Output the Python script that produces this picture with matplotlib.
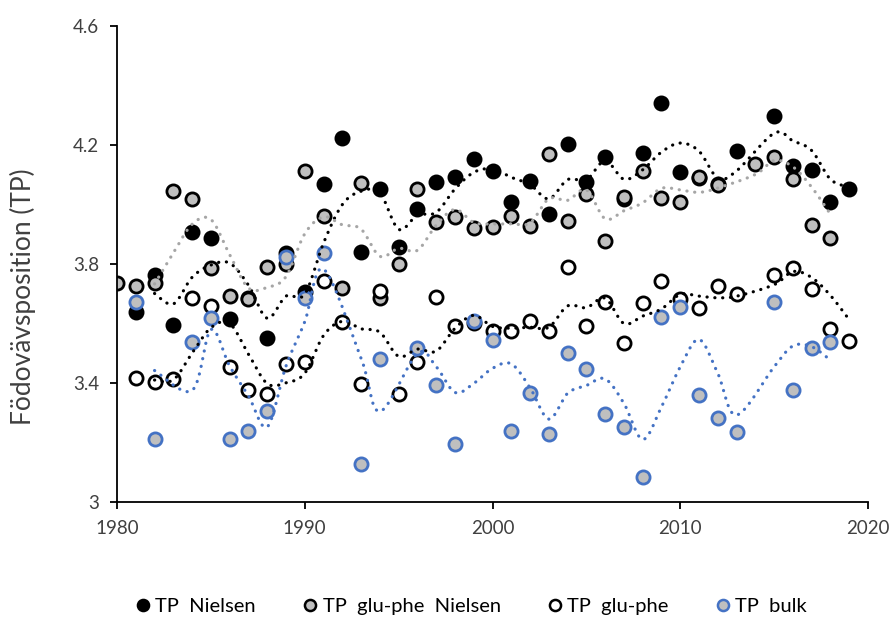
import numpy as np
import matplotlib
matplotlib.use("Agg")
import matplotlib.pyplot as plt
from matplotlib.lines import Line2D

plt.rcParams['font.family'] = ['Lato', 'DejaVu Sans']

# ---------------- data ----------------
years_nielsen = [1981, 1982, 1983, 1984, 1985, 1986, 1987, 1988, 1989,
                 1990, 1991, 1992, 1993, 1994, 1995, 1996, 1997, 1998, 1999,
                 2000, 2001, 2002, 2003, 2004, 2005, 2006, 2007, 2008, 2009,
                 2010, 2011, 2012, 2013, 2015, 2016, 2017, 2018, 2019]
tp_nielsen = [3.639, 3.763, 3.595, 3.908, 3.886, 3.615, 3.686, 3.552, 3.838,
              3.706, 4.068, 4.225, 3.841, 4.051, 3.858, 3.985, 4.077, 4.094, 4.153,
              4.112, 4.009, 4.080, 3.968, 4.203, 4.077, 4.161, 4.017, 4.172, 4.340,
              4.108, 4.090, 4.069, 4.180, 4.299, 4.129, 4.116, 4.009, 4.051]

years_gp_nielsen = [1980, 1981, 1982, 1983, 1984, 1985, 1986, 1987, 1988, 1989,
                    1990, 1991, 1992, 1993, 1994, 1995, 1996, 1997, 1998, 1999,
                    2000, 2001, 2002, 2003, 2004, 2005, 2006, 2007, 2008, 2009,
                    2010, 2011, 2012, 2014, 2015, 2016, 2017, 2018]
tp_gp_nielsen = [3.736, 3.726, 3.737, 4.047, 4.017, 3.785, 3.692, 3.681, 3.791, 3.800,
                 4.114, 3.961, 3.720, 4.071, 3.687, 3.800, 4.051, 3.940, 3.959, 3.920,
                 3.925, 3.961, 3.928, 4.169, 3.945, 4.034, 3.877, 4.026, 4.114, 4.023,
                 4.009, 4.091, 4.066, 4.136, 4.159, 4.085, 3.931, 3.886]

years_gp = [1981, 1982, 1983, 1984, 1985, 1986, 1987, 1988, 1989, 1990,
            1991, 1992, 1993, 1994, 1995, 1996, 1997, 1998, 1999, 2000,
            2001, 2002, 2003, 2004, 2005, 2006, 2007, 2008, 2009, 2010,
            2011, 2012, 2013, 2015, 2016, 2017, 2018, 2019]
tp_gp = [3.416, 3.404, 3.412, 3.685, 3.660, 3.455, 3.376, 3.363, 3.463, 3.472,
         3.744, 3.606, 3.397, 3.709, 3.363, 3.470, 3.688, 3.593, 3.601, 3.576,
         3.576, 3.610, 3.576, 3.791, 3.593, 3.671, 3.536, 3.668, 3.743, 3.682,
         3.651, 3.726, 3.698, 3.763, 3.786, 3.715, 3.582, 3.541]

years_bulk = [1981, 1982, 1984, 1985, 1986, 1987, 1988, 1989, 1990, 1991,
              1993, 1994, 1996, 1997, 1998, 1999, 2000, 2001, 2002, 2003,
              2004, 2005, 2006, 2007, 2008, 2009, 2010, 2011, 2012, 2013,
              2015, 2016, 2017, 2018]
tp_bulk = [3.673, 3.211, 3.539, 3.620, 3.211, 3.240, 3.306, 3.824, 3.687, 3.838,
           3.128, 3.481, 3.517, 3.393, 3.195, 3.608, 3.545, 3.240, 3.367, 3.229,
           3.500, 3.446, 3.295, 3.253, 3.083, 3.623, 3.656, 3.360, 3.281, 3.236,
           3.673, 3.376, 3.517, 3.537]

series_labels = ["TP  Nielsen", "TP  glu-phe  Nielsen", "TP  glu-phe", "TP  bulk"]
ma_period = 3          # moving-average period (rows = years)
first_row_year = 1980  # first row of the data table

x_ticks = [1980, 1990, 2000, 2010, 2020]
y_ticks = [3.0, 3.4, 3.8, 4.2, 4.6]
y_tick_labels = ["3", "3.4", "3.8", "4.2", "4.6"]
y_label = "Födovävsposition (TP)"

# ---------------- helpers ----------------
def moving_average(x, y, n):
    # Excel-like: window of n rows (years), blank rows ignored,
    # plotted only at non-blank rows from row n-1 onward
    x = np.asarray(x, float)
    y = np.asarray(y, float)
    ox, oy = [], []
    for xi in x:
        if xi < first_row_year + n - 1:
            continue
        m = (x > xi - n) & (x <= xi)
        ox.append(xi)
        oy.append(y[m].mean())
    return np.array(ox), np.array(oy)


def smooth(x, y, steps=20):
    # Bezier/Catmull-Rom smoothing like Excel's smoothed lines
    x = np.asarray(x, float)
    y = np.asarray(y, float)
    px = np.concatenate([[x[0]], x, [x[-1]]])
    py = np.concatenate([[y[0]], y, [y[-1]]])
    ox, oy = [], []
    for i in range(1, len(px) - 2):
        p0 = np.array([px[i], py[i]])
        p3 = np.array([px[i + 1], py[i + 1]])
        c1 = p0 + (np.array([px[i + 1], py[i + 1]]) - np.array([px[i - 1], py[i - 1]])) / 6
        c2 = p3 - (np.array([px[i + 2], py[i + 2]]) - np.array([px[i], py[i]])) / 6
        t = np.linspace(0, 1, steps, endpoint=(i == len(px) - 3))
        for tt in t:
            b = ((1 - tt) ** 3) * p0 + 3 * ((1 - tt) ** 2) * tt * c1 + 3 * (1 - tt) * tt ** 2 * c2 + tt ** 3 * p3
            ox.append(b[0])
            oy.append(b[1])
    return np.array(ox), np.array(oy)


# ---------------- figure ----------------
fig = plt.figure(figsize=(8.96, 6.18), dpi=100)
ax = fig.add_axes([117 / 896, 1 - 502 / 618, (868 - 117) / 896, (502 - 26) / 618])

tick_color = '#404040'
blue = '#4472C4'
gray_fill = '#BFBFBF'

marker_styles = [
    dict(facecolor='black', edgecolor='black'),
    dict(facecolor=gray_fill, edgecolor='black'),
    dict(facecolor='white', edgecolor='black'),
    dict(facecolor=gray_fill, edgecolor=blue),
]
line_colors = ['black', '#A6A6A6', 'black', blue]

datasets = [(years_nielsen, tp_nielsen), (years_gp_nielsen, tp_gp_nielsen),
            (years_gp, tp_gp), (years_bulk, tp_bulk)]

for i, ((xs, ys), st) in enumerate(zip(datasets, marker_styles)):
    ax.scatter(xs, ys, s=90, facecolor=st['facecolor'], edgecolor=st['edgecolor'],
               linewidths=2.0, zorder=2 + i * 0.1)

for (xs, ys), col in zip(datasets, line_colors):
    mx, my = moving_average(xs, ys, ma_period)
    sx, sy = smooth(mx, my)
    ax.plot(sx, sy, color=col, lw=2.3, linestyle=(0, (0.05, 2.4)),
            dash_capstyle='round', zorder=3)

ax.set_xlim(1980, 2020)
ax.set_ylim(3.0, 4.6)
ax.set_xticks(x_ticks)
ax.set_yticks(y_ticks)
ax.set_yticklabels(y_tick_labels)
ax.tick_params(axis='both', direction='out', length=5, width=1.3,
               colors='black', labelcolor=tick_color, labelsize=13.5, pad=8)
for side in ['top', 'right']:
    ax.spines[side].set_visible(False)
for side in ['left', 'bottom']:
    ax.spines[side].set_linewidth(1.3)
ax.set_ylabel(y_label, fontsize=19, color=tick_color, va='center')
ax.yaxis.set_label_coords((23 - 117) / 751, (502 - 297) / 476)

handles = [Line2D([], [], linestyle='none', marker='o', markersize=8,
                  markerfacecolor=st['facecolor'], markeredgecolor=st['edgecolor'],
                  markeredgewidth=1.8) for st in marker_styles]
fig.legend(handles, series_labels, loc='center', ncol=4,
           bbox_to_anchor=(470 / 896, 1 - 606 / 618), frameon=False,
           fontsize=14.5, handletextpad=0.1, columnspacing=2.2, handlelength=1.0,
           labelcolor='black')

fig.savefig('out.png', dpi=100)
